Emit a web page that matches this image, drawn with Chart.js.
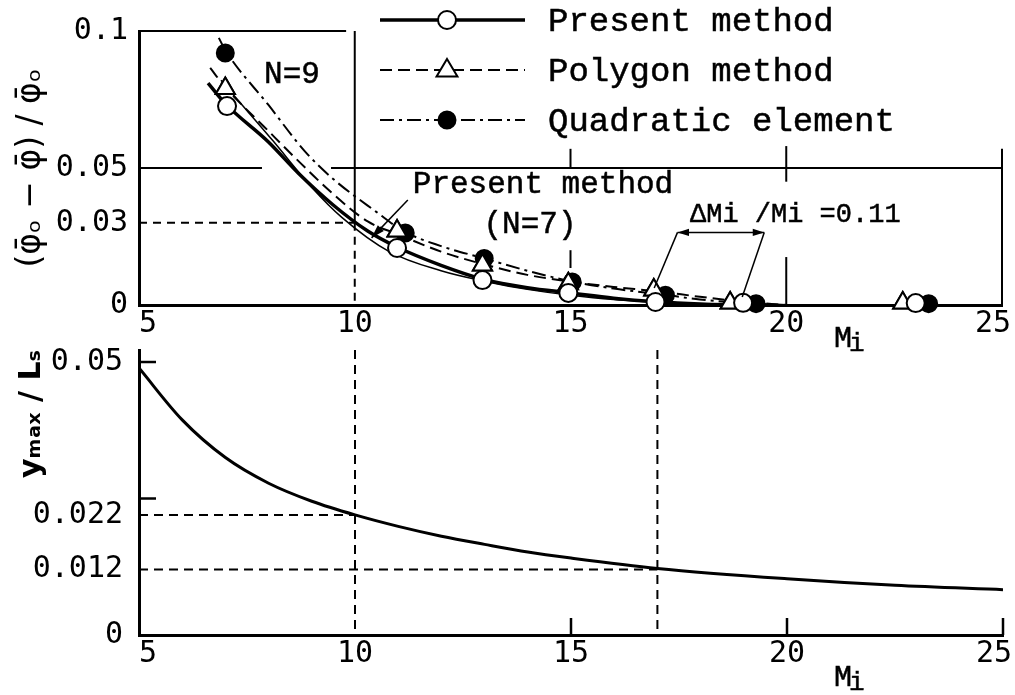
<!DOCTYPE html>
<html lang="en">
<head>
<meta charset="UTF-8">
<title>Relative error and ymax/Ls versus Mi</title>
<script src="https://cdn.jsdelivr.net/npm/chart.js"></script>
<style>
  body { margin: 0; background: #fff; }
  #wrap { position: relative; width: 1015px; height: 695px; }
  canvas { position: absolute; left: 0; }
</style>
</head>
<body>
<div id="wrap">
  <canvas id="topChart" width="1015" height="360" style="top:0"></canvas>
  <canvas id="bottomChart" width="1015" height="365" style="top:330px"></canvas>
</div>
<script>
// axis ticks
const xTicks = [5, 10, 15, 20, 25];
const topYTicks = [0, 0.03, 0.05, 0.1];
const bottomYTicks = [0, 0.012, 0.022, 0.05];
const bottomInnerTicksY = [0.025, 0.05];
const bottomInnerTicksX = [15, 20, 25];

// upper panel - curves
const presentN9Mi  = [6.6, 7.0, 8.0, 8.7, 9.5, 10.3, 11.0, 12.0, 13.0, 14.0, 15.0, 16.0, 17.0, 18.0, 19.0];
const presentN9Err = [0.081, 0.0735, 0.0595, 0.048, 0.0365, 0.027, 0.021, 0.0145, 0.0093, 0.0063, 0.0044, 0.0025, 0.0012, 0.0004, 0];
const presentN7Mi  = [6.9, 7.5, 8.1, 9.0, 9.7, 10.8, 12.0, 13.0, 14.0, 15.0, 16.0, 17.0, 18.0];
const presentN7Err = [0.082, 0.071, 0.060, 0.043, 0.032, 0.0195, 0.0125, 0.0087, 0.0057, 0.0036, 0.002, 0.001, 0];
const polygonMi  = [6.65, 7.0, 8.0, 8.6, 9.5, 10.3, 11.0, 12.0, 13.0, 14.0, 15.0, 16.0, 17.0, 18.0, 19.0, 20.0];
const polygonErr = [0.0865, 0.0795, 0.0635, 0.054, 0.0405, 0.0305, 0.0258, 0.0195, 0.0148, 0.011, 0.0085, 0.0066, 0.005, 0.003, 0.0012, 0];
const quadMi  = [6.85, 7.0, 8.0, 8.85, 9.5, 10.5, 11.15, 12.0, 13.0, 14.0, 15.0, 16.0, 17.2, 18.0, 19.3, 20.0];
const quadErr = [0.0975, 0.093, 0.073, 0.056, 0.046, 0.034, 0.0268, 0.0215, 0.017, 0.0125, 0.0087, 0.006, 0.0037, 0.002, 0.0005, 0];

// upper panel - plotted points
const presentPtsMi  = [7.04, 10.98, 12.96, 14.95, 16.97, 19.0, 23.0];
const presentPtsErr = [0.0726, 0.0208, 0.0091, 0.0044, 0.0011, 0.0008, 0.0007];
const polygonPtsMi  = [7.0, 10.98, 12.96, 14.95, 16.93, 18.7, 22.7];
const polygonPtsErr = [0.079, 0.027, 0.0146, 0.0078, 0.0055, 0.0007, 0.0007];
const quadPtsMi  = [7.0, 11.17, 13.0, 15.04, 17.2, 19.3, 23.3];
const quadPtsErr = [0.092, 0.0263, 0.017, 0.0084, 0.0036, 0.0005, 0.0005];

// lower panel
const ymaxMi    = [5, 6, 7, 8, 9, 10, 11, 12, 13, 14, 15, 17, 20, 22.5, 25];
const ymaxRatio = [0.0489, 0.0394, 0.0325, 0.0278, 0.0245, 0.022, 0.0199, 0.0181, 0.0166, 0.0152, 0.0141, 0.0122, 0.0103, 0.0091, 0.0083];

const legendLabels = ['Present method', 'Polygon method', 'Quadratic element'];

const zip = (xs, ys) => xs.map((x, i) => ({ x: x, y: ys[i] }));

// small drawing helpers
function line(ctx, a, b, width, dash) {
  ctx.save();
  ctx.strokeStyle = '#000';
  ctx.lineWidth = width;
  ctx.setLineDash(dash || []);
  ctx.beginPath();
  ctx.moveTo(a[0], a[1]);
  ctx.lineTo(b[0], b[1]);
  ctx.stroke();
  ctx.restore();
}
function arrowHead(ctx, from, to, size) {
  const ang = Math.atan2(to[1] - from[1], to[0] - from[0]);
  ctx.save();
  ctx.fillStyle = '#000';
  ctx.beginPath();
  ctx.moveTo(to[0], to[1]);
  ctx.lineTo(to[0] - size * Math.cos(ang - 0.3), to[1] - size * Math.sin(ang - 0.3));
  ctx.lineTo(to[0] - size * Math.cos(ang + 0.3), to[1] - size * Math.sin(ang + 0.3));
  ctx.closePath();
  ctx.fill();
  ctx.restore();
}
function marker(ctx, style, r, fill, x, y) {
  ctx.save();
  ctx.fillStyle = fill;
  ctx.strokeStyle = '#000';
  ctx.lineWidth = 2;
  ctx.beginPath();
  if (style === 'triangle') {
    ctx.moveTo(x, y - r);
    ctx.lineTo(x + r * 0.95, y + r * 0.6);
    ctx.lineTo(x - r * 0.95, y + r * 0.6);
    ctx.closePath();
  } else {
    ctx.arc(x, y, r, 0, Math.PI * 2);
  }
  ctx.fill();
  ctx.stroke();
  ctx.restore();
}
// typewriter-like text: fill plus a thin stroke for weight
function typeText(ctx, text, x, y, size, align) {
  ctx.save();
  ctx.fillStyle = '#000';
  ctx.strokeStyle = '#000';
  ctx.lineWidth = 0.5;
  ctx.font = size + 'px "Liberation Mono"';
  ctx.textAlign = align || 'left';
  ctx.textBaseline = 'middle';
  ctx.fillText(text, x, y);
  ctx.strokeText(text, x, y);
  ctx.restore();
}
function drawMi(ctx, x, y) {
  ctx.save();
  ctx.font = '30px "Liberation Mono"';
  const w = ctx.measureText('M').width;
  ctx.restore();
  typeText(ctx, 'M', x, y, 30);
  typeText(ctx, 'i', x + w - 3, y + 5, 26);
}

const tickFont = { family: 'DejaVu Sans Mono', size: 30 };
// pad the end labels so they sit like the printed ones
const xLabel = v => v === 5 ? ' 5' : v === 25 ? '25 ' : String(v);

const topFrame = {
  id: 'topFrame',
  beforeDatasetsDraw(chart) {
    const ctx = chart.ctx;
    const p = (m, v) => [chart.scales.x.getPixelForValue(m), chart.scales.y.getPixelForValue(v)];
    line(ctx, p(5, 0.1), p(9.8, 0.1), 2);
    line(ctx, p(10, 0.1), p(10, 0.03), 2);
    line(ctx, p(10, 0.03), p(10, 0), 2, [8, 6]);
    line(ctx, p(5, 0.03), p(10, 0.03), 2, [8, 6]);
    line(ctx, p(5, 0.05), p(7.85, 0.05), 2);
    line(ctx, p(9.45, 0.05), p(25, 0.05), 2);
    line(ctx, p(15, 0.057), p(15, 0.05), 2);
    line(ctx, p(15, 0.02), p(15, 0.0135), 2);
    line(ctx, p(20, 0.058), p(20, 0.045), 2);
    line(ctx, p(20, 0.0175), p(20, 0), 2);
    line(ctx, p(25, 0.057), p(25, 0), 2);
  },
  afterDraw(chart) {
    const ctx = chart.ctx;
    const p = (m, v) => [chart.scales.x.getPixelForValue(m), chart.scales.y.getPixelForValue(v)];
    const ds = chart.data.datasets;

    // legend: line sample with marker, then label
    const rows = [
      { curve: ds[0], pts: ds[5], y: 20 },
      { curve: ds[2], pts: ds[6], y: 70 },
      { curve: ds[3], pts: ds[7], y: 120 }
    ];
    rows.forEach((r, i) => {
      ctx.save();
      ctx.strokeStyle = '#000';
      ctx.lineWidth = r.curve.borderWidth;
      ctx.setLineDash(r.curve.borderDash || []);
      ctx.beginPath();
      ctx.moveTo(380, r.y);
      ctx.lineTo(525, r.y);
      ctx.stroke();
      ctx.restore();
      marker(ctx, r.pts.pointStyle, r.pts.pointRadius, r.pts.pointBackgroundColor, 447, r.y);
      typeText(ctx, legendLabels[i], 548, r.y + 2, 34);
    });

    // annotations
    typeText(ctx, 'N=9', 292, 75, 31, 'center');
    typeText(ctx, 'Present method', 543, 185, 31, 'center');
    typeText(ctx, '(N=7)', 530, 225, 31, 'center');
    typeText(ctx, '\u0394Mi /Mi =0.11', 690, 215, 27);

    const a0 = p(11.23, 0.0383), a1 = p(10.39, 0.0245);
    line(ctx, a0, a1, 1.5);
    arrowHead(ctx, a0, a1, 14);

    const l0 = p(16.94, 0.0062), l1 = p(17.48, 0.0265);
    const r0 = p(18.98, 0.0029), r1 = p(19.49, 0.0265);
    line(ctx, l0, l1, 1.5);
    line(ctx, r0, r1, 1.5);
    line(ctx, l1, r1, 1.5);
    arrowHead(ctx, r1, l1, 12);
    arrowHead(ctx, l1, r1, 12);

    drawMi(ctx, 834, 339);
  }
};

const bottomFrame = {
  id: 'bottomFrame',
  beforeDatasetsDraw(chart) {
    const ctx = chart.ctx;
    const y = chart.scales.y;
    const p = (m, v) => [chart.scales.x.getPixelForValue(m), y.getPixelForValue(v)];
    line(ctx, p(5, 0.022), p(10, 0.022), 2, [9, 6]);
    line(ctx, p(5, 0.012), p(17, 0.012), 2, [9, 6]);
    line(ctx, p(10, y.max), p(10, 0), 2, [9, 6]);
    line(ctx, p(17, y.max), p(17, 0), 2, [9, 6]);
    bottomInnerTicksY.forEach(v => {
      const a = p(5, v);
      line(ctx, a, [a[0] + 17, a[1]], 2.5);
    });
    bottomInnerTicksX.forEach(m => {
      const a = p(m, 0);
      line(ctx, a, [a[0], a[1] - 17], 2.5);
    });
  },
  afterDraw(chart) {
    drawMi(chart.ctx, 834, 348);
  }
};

function curve(xs, ys, width, dash, ord) {
  return {
    data: zip(xs, ys),
    borderColor: '#000',
    borderWidth: width,
    borderDash: dash,
    pointRadius: 0,
    fill: false,
    cubicInterpolationMode: 'monotone',
    order: ord
  };
}
function points(xs, ys, style, r, fillColor, ord) {
  return {
    data: zip(xs, ys),
    showLine: false,
    pointStyle: style,
    pointRadius: r,
    pointBackgroundColor: fillColor,
    pointBorderColor: '#000',
    pointBorderWidth: 2,
    clip: false,
    order: ord
  };
}

function xScale(height) {
  return {
    type: 'linear', min: 5, max: 25,
    afterBuildTicks: s => { s.ticks = xTicks.map(v => ({ value: v })); },
    afterFit: s => { s.height = height; s.paddingLeft = 0; s.paddingRight = 0; },
    grid: { display: false, drawTicks: false },
    border: { color: '#000', width: 3 },
    ticks: { color: '#000', font: tickFont, padding: 1, maxRotation: 0, autoSkip: false, callback: xLabel }
  };
}

new Chart(document.getElementById('topChart'), {
  type: 'line',
  data: {
    datasets: [
      curve(presentN9Mi, presentN9Err, 3.5, [], 10),
      curve(presentN7Mi, presentN7Err, 1.5, [], 11),
      curve(polygonMi, polygonErr, 2, [12, 6], 12),
      curve(quadMi, quadErr, 2, [14, 5, 3, 5], 13),
      points(polygonPtsMi, polygonPtsErr, 'triangle', 11, '#fff', 4),
      points(presentPtsMi, presentPtsErr, 'circle', 9, '#fff', 1),
      points(polygonPtsMi, polygonPtsErr, 'triangle', 11, '#fff', 2),
      points(quadPtsMi, quadPtsErr, 'circle', 8.5, '#000', 3)
    ]
  },
  options: {
    responsive: false,
    animation: false,
    layout: { padding: { top: 31, right: 12, left: 0, bottom: 0 } },
    plugins: { legend: { display: false }, tooltip: { enabled: false } },
    scales: {
      x: xScale(55),
      y: {
        min: 0, max: 0.1,
        afterBuildTicks: s => { s.ticks = topYTicks.map(v => ({ value: v })); },
        afterFit: s => { s.width = 139; s.paddingTop = 0; s.paddingBottom = 0; },
        grid: { display: false, drawTicks: false },
        border: { color: '#000', width: 3 },
        ticks: { color: '#000', font: tickFont, padding: 11, callback: v => String(v) },
        title: {
          display: true,
          text: '(\u03C6\u0304\u2092 \u2212 \u03C6\u0304) / \u03C6\u0304\u2092',
          color: '#000',
          font: { family: 'DejaVu Sans', size: 33 },
          padding: { top: 12, bottom: 0 }
        }
      }
    }
  },
  plugins: [topFrame]
});

new Chart(document.getElementById('bottomChart'), {
  type: 'line',
  data: {
    datasets: [curve(ymaxMi, ymaxRatio, 3, [], 0)]
  },
  options: {
    responsive: false,
    animation: false,
    layout: { padding: { top: 20, right: 12, left: 0, bottom: 0 } },
    plugins: { legend: { display: false }, tooltip: { enabled: false } },
    scales: {
      x: xScale(60),
      y: {
        min: 0, max: 0.0522,
        afterBuildTicks: s => { s.ticks = bottomYTicks.map(v => ({ value: v })); },
        afterFit: s => { s.width = 139; s.paddingTop = 0; s.paddingBottom = 0; },
        grid: { display: false, drawTicks: false },
        border: { color: '#000', width: 3 },
        ticks: { color: '#000', font: tickFont, padding: 16, callback: v => String(v) },
        title: {
          display: true,
          text: 'y\u2098\u2090\u2093 / L\u209B',
          align: 'end',
          color: '#000',
          font: { family: 'DejaVu Sans', size: 30, weight: 'bold' },
          padding: { top: 14, bottom: 0 }
        }
      }
    }
  },
  plugins: [bottomFrame]
});
</script>
</body>
</html>
